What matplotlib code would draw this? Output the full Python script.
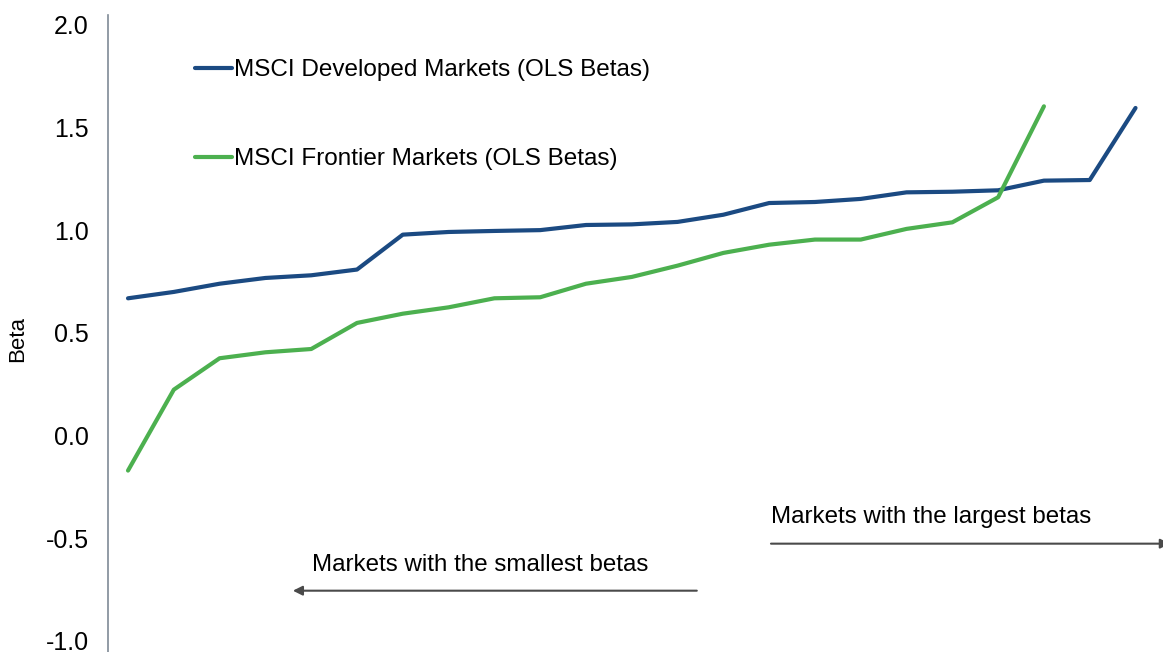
import matplotlib.pyplot as plt

plt.rcParams["font.family"] = ["Liberation Sans", "DejaVu Sans"]

# betas sorted from smallest to largest, one point per market
developed = [0.669, 0.700, 0.740, 0.768, 0.781, 0.809, 0.979, 0.992, 0.997, 1.001,
             1.026, 1.029, 1.041, 1.076, 1.133, 1.138, 1.153, 1.185, 1.188, 1.195,
             1.242, 1.245, 1.596]
frontier = [-0.170, 0.224, 0.377, 0.406, 0.422, 0.549, 0.594, 0.625, 0.669, 0.674,
            0.740, 0.773, 0.828, 0.890, 0.930, 0.955, 0.955, 1.007, 1.039, 1.161,
            1.604]
yticks = [-1.0, -0.5, 0.0, 0.5, 1.0, 1.5, 2.0]

fig = plt.figure(figsize=(11.63, 6.52), dpi=100)
ax = fig.add_axes([108 / 1163, 0, 1 - 108 / 1163, 1 - 15 / 652])

ax.plot(range(len(developed)), developed, color="#1B4A82", lw=3,
        label="MSCI Developed Markets (OLS Betas)", solid_capstyle="round")
ax.plot(range(len(frontier)), frontier, color="#4CB04F", lw=3,
        label="MSCI Frontier Markets (OLS Betas)", solid_capstyle="round")

ax.set_xlim(-0.437, 22.6)
ax.set_ylim(-1.0536, 2.0487)
ax.set_yticks(yticks)
ax.set_yticklabels([f"{v:.1f}" for v in yticks], fontsize=18)
ax.tick_params(axis="y", length=0, pad=14)
ax.set_xticks([])
for s in ["top", "right", "bottom"]:
    ax.spines[s].set_visible(False)
ax.spines["left"].set_color("#7F8A96")
ax.spines["left"].set_linewidth(1.2)
ax.set_ylabel("Beta", fontsize=16)
ax.yaxis.set_label_coords(-0.0755, 0.491)

ax.legend(loc="upper left", bbox_to_anchor=(183 / 1163, 1 - 47 / 652),
          bbox_transform=fig.transFigure, frameon=False, fontsize=17.5,
          handlelength=1.5, handletextpad=0.08, labelspacing=2.75, borderpad=0)

# direction arrows
ax.annotate("", xy=(3.6, -0.755), xytext=(12.42, -0.755),
            arrowprops=dict(arrowstyle="-|>", color="#4a4a4a", lw=1.5,
                            mutation_scale=14, shrinkA=0, shrinkB=0))
ax.text(4.02, -0.628, "Markets with the smallest betas", fontsize=17.4,
        va="center", ha="left")
ax.annotate("", xy=(22.75, -0.526), xytext=(14.04, -0.526),
            arrowprops=dict(arrowstyle="-|>", color="#4a4a4a", lw=1.5,
                            mutation_scale=14, shrinkA=0, shrinkB=0),
            annotation_clip=False)
ax.text(14.04, -0.395, "Markets with the largest betas", fontsize=17.4,
        va="center", ha="left")

plt.savefig("out.png", dpi=100)
